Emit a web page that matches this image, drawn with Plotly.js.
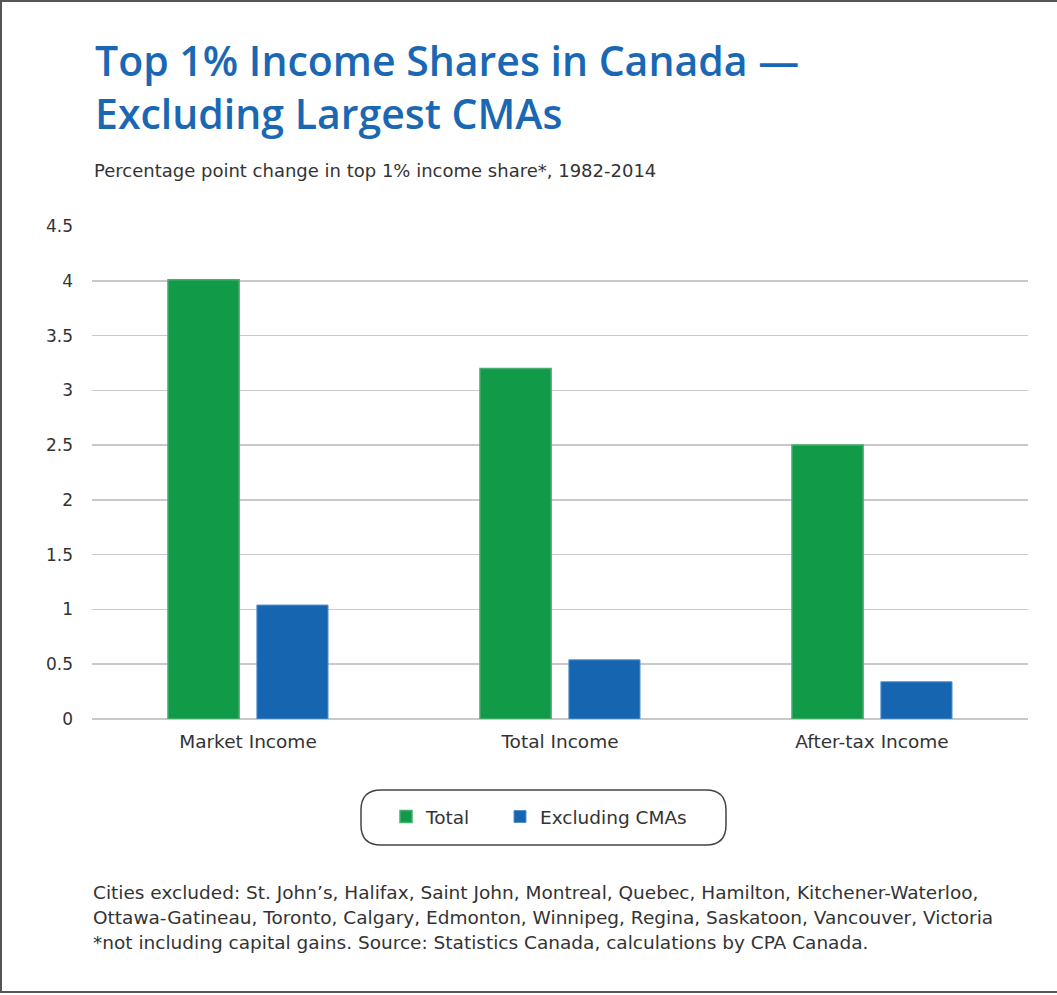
<!DOCTYPE html>
<html>
<head>
<meta charset="utf-8">
<script src="https://cdn.plot.ly/plotly-3.0.1.min.js"></script>
<style>
html,body{margin:0;padding:0;background:#fff;overflow:hidden;}
#wrap{position:relative;width:1057px;height:995px;}
#chart{position:absolute;left:0;top:0;width:1057px;height:995px;}
#frame{position:absolute;left:0;top:0;width:1060px;height:993px;border:2px solid #555;box-sizing:border-box;pointer-events:none;border-right:none;}
</style>
</head>
<body>
<div id="wrap"><div id="chart"></div><div id="frame"></div></div>
<script>
const categories = ["Market Income", "Total Income", "After-tax Income"];
const totalValues = [4.01, 3.20, 2.50];
const exclValues = [1.04, 0.54, 0.34];
const seriesNames = ["Total", "Excluding CMAs"];
const yTicks = [0, 0.5, 1, 1.5, 2, 2.5, 3, 3.5, 4, 4.5];
const yTickLabels = ["0", "0.5", "1", "1.5", "2", "2.5", "3", "3.5", "4", "4.5"];
const titleLines = ["Top 1% Income Shares in Canada \u2014", "Excluding Largest CMAs"];
const subtitle = "Percentage point change in top 1% income share*, 1982-2014";
const notes = [
  "Cities excluded: St. John\u2019s, Halifax, Saint John, Montreal, Quebec, Hamilton, Kitchener-Waterloo,",
  "Ottawa-Gatineau, Toronto, Calgary, Edmonton, Winnipeg, Regina, Saskatoon, Vancouver, Victoria",
  "*not including capital gains. Source: Statistics Canada, calculations by CPA Canada."
];

const W = 1057, H = 995;
const L = 92, R = 1028, T = 226, B = 719;
const px = x => (x - L) / (R - L);
const py = y => (B - y) / (B - T);
const TFONT = "Open Sans, sans-serif";
const FONT = "DejaVu Sans, sans-serif";

const traces = [
  {type: "bar", name: seriesNames[0], x: categories, y: totalValues, legend: "legend",
   marker: {color: "#119a48", line: {color: "#46ae70", width: 1.5}}, hoverinfo: "none"},
  {type: "bar", name: seriesNames[1], x: categories, y: exclValues, legend: "legend2",
   marker: {color: "#1565b0", line: {color: "#5b90cc", width: 1}}, hoverinfo: "none"}
];

function roundRect(x0, y0, x1, y1, r) {
  const X = v => px(v).toFixed(5), Y = v => py(v).toFixed(5);
  return `M${X(x0 + r)},${Y(y0)} L${X(x1 - r)},${Y(y0)} Q${X(x1)},${Y(y0)} ${X(x1)},${Y(y0 + r)} ` +
         `L${X(x1)},${Y(y1 - r)} Q${X(x1)},${Y(y1)} ${X(x1 - r)},${Y(y1)} ` +
         `L${X(x0 + r)},${Y(y1)} Q${X(x0)},${Y(y1)} ${X(x0)},${Y(y1 - r)} ` +
         `L${X(x0)},${Y(y0 + r)} Q${X(x0)},${Y(y0)} ${X(x0 + r)},${Y(y0)} Z`;
}

const annotations = [];
annotations.push({
  text: titleLines.join("<br>"), xref: "paper", yref: "paper", x: px(93), y: py(86),
  xanchor: "left", yanchor: "middle", align: "left", showarrow: false,
  font: {family: TFONT, size: 41, color: "#1a68b3", weight: 600}
});
annotations.push({
  text: subtitle, xref: "paper", yref: "paper", x: px(92), y: py(171),
  xanchor: "left", yanchor: "middle", showarrow: false,
  font: {family: FONT, size: 18, color: "#333"}
});
notes.forEach((t, i) => annotations.push({
  text: t, xref: "paper", yref: "paper", x: px(91), y: py(892 + i * 25),
  xanchor: "left", yanchor: "middle", showarrow: false,
  font: {family: FONT, size: 18.5, color: "#333"}
}));

const legendBase = {orientation: "h", yanchor: "middle", xanchor: "left",
  font: {size: 18.5, color: "#333"}, bgcolor: "rgba(0,0,0,0)", borderwidth: 0, itemwidth: 30};

const layout = {
  width: W, height: H,
  margin: {l: L, r: W - R, t: T, b: H - B, pad: 0},
  paper_bgcolor: "#fff", plot_bgcolor: "#fff",
  barmode: "group", bargap: 0.43, bargroupgap: 0.2,
  font: {family: FONT, size: 18, color: "#333"},
  xaxis: {showgrid: false, showline: false, ticks: "", tickfont: {size: 18.5, color: "#333"}, ticklabelstandoff: 9},
  yaxis: {range: [0, 4.5], tickvals: yTicks, ticktext: yTickLabels, showgrid: true,
          gridcolor: "#c9c9c9", gridwidth: 1.5, zeroline: true, zerolinecolor: "#c9c9c9", zerolinewidth: 1.5,
          showline: false, ticks: "", tickfont: {size: 17, color: "#333"}, ticklabelstandoff: 18},
  showlegend: true,
  legend: Object.assign({}, legendBase, {x: px(386), y: py(817)}),
  legend2: Object.assign({}, legendBase, {x: px(500), y: py(817)}),
  shapes: [{type: "path", xref: "paper", yref: "paper", path: roundRect(361, 790, 726, 845, 20),
            line: {color: "#444", width: 1.5}, fillcolor: "rgba(0,0,0,0)"}],
  annotations: annotations
};

Plotly.newPlot("chart", traces, layout, {displayModeBar: false, staticPlot: true});
</script>
</body>
</html>
